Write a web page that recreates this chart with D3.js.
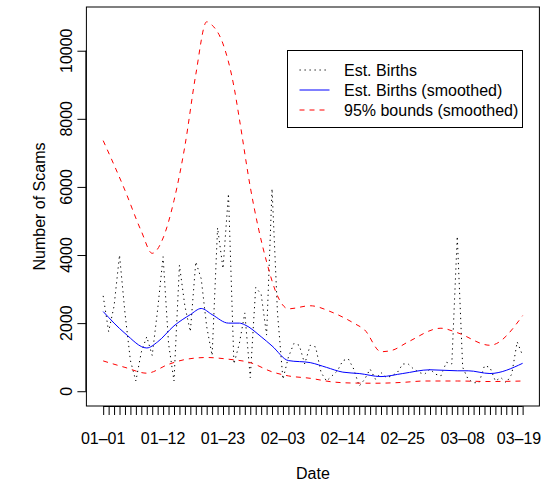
<!DOCTYPE html>
<html>
<head>
<meta charset="utf-8">
<script src="https://cdn.jsdelivr.net/npm/d3@7"></script>
<style>
  body { margin: 0; background: #fff; }
  svg text { font-family: "Liberation Sans", Arial, sans-serif; font-size: 16px; fill: #000; }
</style>
</head>
<body>
<svg id="chart"></svg>
<script>
// daily estimates, 2015-01-01 .. 2015-03-19
const startDate = "2015-01-01";
const estBirths = [
  2800, 1750, 2500, 4000, 2300, 900, 300, 1150, 1600, 1050,
  2400, 3950, 1400, 300, 3700, 2500, 1750, 3800, 3300, 1900,
  1050, 4800, 3600, 5800, 800, 1400, 2300, 400, 3050, 2850,
  1650, 5950, 2300, 350, 1000, 1400, 1350, 800, 1350, 1300,
  550, 300, 450, 600, 900, 950, 650, 150, 350, 650,
  350, 550, 400, 450, 550, 800, 800, 650, 550, 500,
  650, 500, 450, 850, 800, 4550, 700, 350, 250, 250,
  750, 700, 300, 400, 250, 500, 1450, 1050
];

// smoothed curves read at selected days (day index, value)
const smoothDays = [0, 4, 8, 10, 13, 16, 18, 20, 23, 25, 26, 29, 31, 34, 38, 41, 44, 47, 51, 55, 60, 65, 67, 71, 77];
const smoothVals = [2340, 1700, 1270, 1450, 1920, 2250, 2430, 2250, 2000, 2000, 1950, 1600, 1330, 900, 840, 700, 560, 520, 430, 520, 630, 600, 600, 520, 820];

const upperDays = [0, 4, 7, 9, 11, 13, 15, 17, 19, 20, 22, 24, 25, 27, 30, 32, 34, 38, 42, 46, 48, 51, 53, 56, 62, 65, 71, 77];
const upperVals = [7360, 5900, 4700, 4050, 4500, 5600, 7200, 9300, 10850, 10750, 10200, 8950, 8000, 6000, 3800, 2800, 2420, 2510, 2320, 2000, 1800, 1160, 1200, 1450, 1850, 1720, 1350, 2220];

const lowerDays = [0, 4, 8, 12, 15, 19, 23, 27, 31, 34, 38, 42, 46, 50, 55, 59, 65, 71, 77];
const lowerVals = [890, 700, 530, 790, 930, 990, 940, 840, 570, 450, 380, 275, 240, 235, 260, 300, 300, 285, 300];

const yTicks = [0, 2000, 4000, 6000, 8000, 10000];
const labelEvery = 11;
const legendLabels = ["Est. Births", "Est. Births (smoothed)", "95% bounds (smoothed)"];

document.addEventListener("DOMContentLoaded", function() {
  const width = 544;
  const height = 482;
  const margin = { left: 86.4, right: 4.6, top: 7, bottom: 76 };

  const svg = d3.select("#chart")
      .attr("width", width)
      .attr("height", height);

  const n = estBirths.length;
  const pad = (n - 1) * 0.04;
  const x = d3.scaleLinear()
      .domain([-pad, n - 1 + pad])
      .range([margin.left, width - margin.right]);

  const yMax = d3.max(upperVals);
  const y = d3.scaleLinear()
      .domain([-0.04 * yMax, yMax * 1.04])
      .range([height - margin.bottom, margin.top]);

  const day0 = d3.timeParse("%Y-%m-%d")(startDate);
  const fmt = d3.timeFormat("%m-%d");
  const dayLabel = i => fmt(d3.timeDay.offset(day0, i)).replace("-", "\u2013");

  // box
  svg.append("rect")
      .attr("x", x.range()[0])
      .attr("y", y.range()[1])
      .attr("width", x.range()[1] - x.range()[0])
      .attr("height", y.range()[0] - y.range()[1])
      .attr("fill", "none")
      .attr("stroke", "#000");

  // x axis: a tick every day, a label every 11 days
  const days = d3.range(n);
  const xAxis = svg.append("g")
      .attr("transform", `translate(0,${y.range()[0]})`)
      .call(d3.axisBottom(x).tickValues(days).tickSize(9).tickFormat(""));
  xAxis.select(".domain").attr("d", `M${x(0)},0.5H${x(n - 1)}`);
  xAxis.selectAll(".tick line").attr("stroke", "#000");

  svg.append("g").selectAll("text")
      .data(days.filter(i => i % labelEvery === 0))
      .enter().append("text")
      .attr("x", d => Math.min(x(d), width - 3 - 22))
      .attr("y", 443.5)
      .attr("text-anchor", "middle")
      .text(d => dayLabel(d));

  // y axis
  const yAxis = svg.append("g")
      .attr("transform", `translate(${x.range()[0]},0)`)
      .call(d3.axisLeft(y).tickValues(yTicks).tickSize(9).tickFormat(""));
  yAxis.select(".domain").attr("d", `M-0.5,${y(0)}V${y(10000)}`);

  svg.append("g").selectAll("text")
      .data(yTicks)
      .enter().append("text")
      .attr("transform", d => `translate(72,${y(d)}) rotate(-90)`)
      .attr("text-anchor", "middle")
      .text(d => d);

  svg.append("text")
      .attr("x", (x.range()[0] + x.range()[1]) / 2)
      .attr("y", 478.5)
      .attr("text-anchor", "middle")
      .text("Date");

  svg.append("text")
      .attr("transform", `translate(44.5,${(y.range()[0] + y.range()[1]) / 2}) rotate(-90)`)
      .attr("text-anchor", "middle")
      .text("Number of Scams");

  // lines
  const raw = d3.line().x((d, i) => x(i)).y(d => y(d));
  svg.append("path")
      .attr("d", raw(estBirths))
      .attr("fill", "none")
      .attr("stroke", "#000")
      .attr("stroke-dasharray", "1.25,3.75");

  const smooth = d3.line().x(d => x(d[0])).y(d => y(d[1])).curve(d3.curveMonotoneX);
  svg.append("path")
      .attr("d", smooth(d3.zip(smoothDays, smoothVals)))
      .attr("fill", "none")
      .attr("stroke", "#0000ff");

  [d3.zip(upperDays, upperVals), d3.zip(lowerDays, lowerVals)].forEach(function(pts) {
    svg.append("path")
        .attr("d", smooth(pts))
        .attr("fill", "none")
        .attr("stroke", "#ff0000")
        .attr("stroke-dasharray", "5,5");
  });

  // legend
  const legend = svg.append("g").attr("transform", "translate(287.5,50.5)");
  legend.append("rect")
      .attr("width", 235)
      .attr("height", 77)
      .attr("fill", "#fff")
      .attr("stroke", "#000");

  const styles = [
    { stroke: "#000", dash: "1.25,3.75" },
    { stroke: "#0000ff", dash: null },
    { stroke: "#ff0000", dash: "5,5" }
  ];
  legendLabels.forEach(function(label, i) {
    const cy = 19.5 + i * 20;
    legend.append("line")
        .attr("x1", 12).attr("x2", 42)
        .attr("y1", cy).attr("y2", cy)
        .attr("stroke", styles[i].stroke)
        .attr("stroke-dasharray", styles[i].dash);
    legend.append("text")
        .attr("x", 56.5)
        .attr("y", cy)
        .attr("dy", "0.35em")
        .text(label);
  });
});
</script>
</body>
</html>
